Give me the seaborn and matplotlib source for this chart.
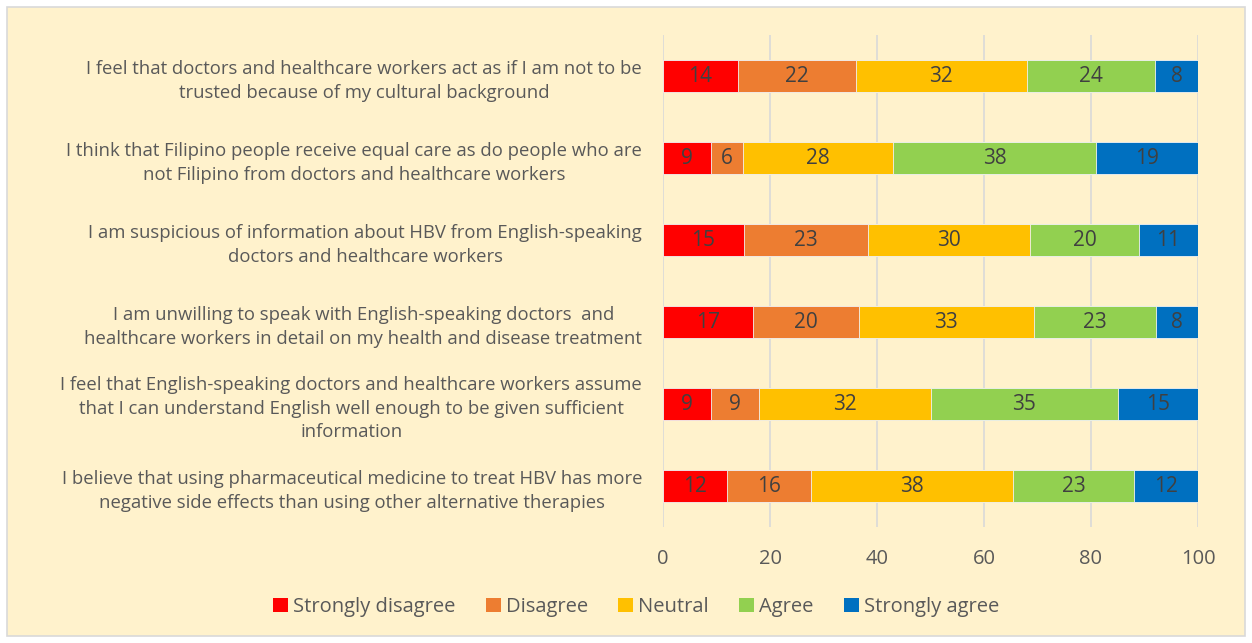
import numpy as np
import pandas as pd
import seaborn as sns
import matplotlib.pyplot as plt
from matplotlib.patches import Rectangle, Patch

statements = [
    "I feel that doctors and healthcare workers act as if I am not to be\ntrusted because of my cultural background",
    "I think that Filipino people receive equal care as do people who are\nnot Filipino from doctors and healthcare workers",
    "I am suspicious of information about HBV from English-speaking\ndoctors and healthcare workers",
    "I am unwilling to speak with English-speaking doctors  and\nhealthcare workers in detail on my health and disease treatment",
    "I feel that English-speaking doctors and healthcare workers assume\nthat I can understand English well enough to be given sufficient\ninformation",
    "I believe that using pharmaceutical medicine to treat HBV has more\nnegative side effects than using other alternative therapies",
]
levels = ["Strongly disagree", "Disagree", "Neutral", "Agree", "Strongly agree"]
colors = ["#FF0000", "#ED7D31", "#FFC000", "#92D050", "#0070C0"]

strongly_disagree = [14, 9, 15, 17, 9, 12]
disagree = [22, 6, 23, 20, 9, 16]
neutral = [32, 28, 30, 33, 32, 38]
agree = [24, 38, 20, 23, 35, 23]
strongly_agree = [8, 19, 11, 8, 15, 12]

df = pd.DataFrame({"statement": statements,
                   "Strongly disagree": strongly_disagree,
                   "Disagree": disagree,
                   "Neutral": neutral,
                   "Agree": agree,
                   "Strongly agree": strongly_agree})

# rounded labels don't always add to 100, scale bar widths to 100%
vals = df[levels].to_numpy(dtype=float)
pct = vals / vals.sum(axis=1, keepdims=True) * 100
cum = np.cumsum(pct, axis=1)

bg = "#FFF2CC"
txt = "#595959"
plt.rcParams["font.family"] = ["Open Sans", "DejaVu Sans"]

fig = plt.figure(figsize=(12.52, 6.43), dpi=100, facecolor="white")
fig.patches.append(Rectangle((7 / 1252, 7 / 643), 1238 / 1252, 629 / 643,
                             transform=fig.transFigure, facecolor=bg,
                             edgecolor="#D9D9D9", linewidth=1.2, zorder=-10))
ax = fig.add_axes([663 / 1252, 116 / 643, 535 / 1252, 492 / 643])
ax.set_facecolor("none")

# stacked bars: draw cumulative totals from the outermost level inwards
for i in range(len(levels) - 1, -1, -1):
    sns.barplot(x=cum[:, i], y=df["statement"], orient="h", color=colors[i],
                saturation=1, width=0.40, edgecolor="#F2F2F2", linewidth=0.6,
                ax=ax, zorder=3)

for r in range(len(statements)):
    for i in range(len(levels)):
        ax.text(cum[r, i] - pct[r, i] / 2, r, str(int(vals[r, i])),
                ha="center", va="center", fontsize=15, color="#404040", zorder=4)

ax.set_xlim(0, 100)
ax.set_xticks(range(0, 101, 20))
ax.grid(axis="x", color="#D9D9D9", linewidth=1.2, zorder=0)
ax.set_axisbelow(True)
for s in ax.spines.values():
    s.set_visible(False)
ax.tick_params(axis="both", length=0, colors=txt, labelsize=14.5)
ax.tick_params(axis="x", pad=16)
ax.tick_params(axis="y", pad=15)
for lab in ax.get_yticklabels():
    lab.set_multialignment("center")
    lab.set_fontsize(13.3)
    lab.set_linespacing(1.4)
ax.set_xlabel("")
ax.set_ylabel("")

handles = [Patch(facecolor=c, edgecolor="none") for c in colors]
fig.legend(handles, levels, loc="center", bbox_to_anchor=(636 / 1252, 36 / 643),
           ncol=5, frameon=False, fontsize=14.5, labelcolor=txt,
           handlelength=0.75, handleheight=0.75, handletextpad=0.25, columnspacing=1.5)

fig.savefig("out.png", dpi=100, facecolor=fig.get_facecolor())
